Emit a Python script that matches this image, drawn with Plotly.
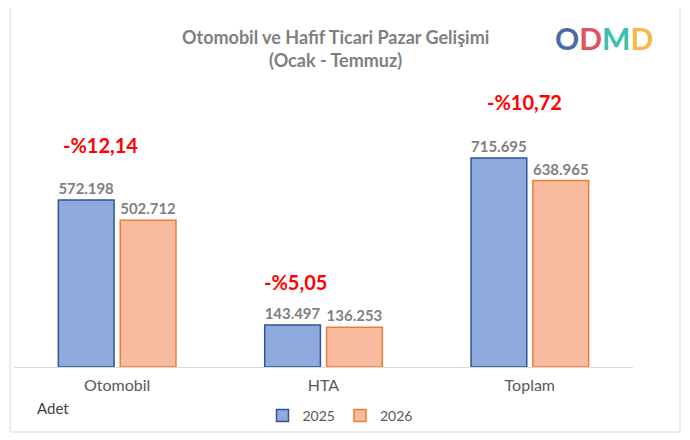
import plotly.graph_objects as go

categories = ["Otomobil", "HTA", "Toplam"]
v2025 = [572198, 143497, 715695]
v2026 = [502712, 136253, 638965]
changes = ["-%12,14", "-%5,05", "-%10,72"]

def fmt(v):
    return "<b>" + f"{v:,}".replace(",", ".") + "</b>"

L, R, T, B = 6, 65, 52, 81
W = 690 - L - R
H = 440 - T - B

fig = go.Figure()
fig.add_bar(name="2025", x=categories, y=v2025, marker=dict(color="#8FAADC", line=dict(color="#2F5597", width=1.5)),
            text=[fmt(v) for v in v2025], textposition="outside",
            textfont=dict(color="#7F7F7F", size=15, family="Lato"), cliponaxis=False)
fig.add_bar(name="2026", x=categories, y=v2026, marker=dict(color="#F8BBA0", line=dict(color="#ED7D31", width=1.5)),
            text=[fmt(v) for v in v2026], textposition="outside",
            textfont=dict(color="#7F7F7F", size=15, family="Lato"), cliponaxis=False)

ann = []
shifts = [-17, -28, -5]
yshifts = [55, 43, 56]
for c, a, b, t, s, ys in zip(categories, v2025, v2026, changes, shifts, yshifts):
    ann.append(dict(x=c, y=max(a, b), text=f"<b>{t}</b>", showarrow=False, xshift=s, yshift=ys,
                    font=dict(color="#FF0000", size=20, family="Lato")))
ann.append(dict(xref="paper", yref="paper", x=(335-L-8)/W, y=(367-24)/H, text="<b>Otomobil ve Hafif Ticari Pazar Gelişimi<br>(Ocak - Temmuz)</b>",
                showarrow=False, font=dict(color="#7F7F7F", size=18, family="Lato")))
ann.append(dict(xref="paper", yref="paper", x=(35-L-8)/W, y=(367-419)/H, xanchor="left", text="Adet", showarrow=False,
                font=dict(color="#404040", size=15, family="Lato")))
logo = ("<span style='color:#4F6BA6'>O</span><span style='color:#E0525E'>D</span>"
        "<span style='color:#3DBFB0'>M</span><span style='color:#F7B84B'>D</span>")
ann.append(dict(xref="paper", yref="paper", x=(655-L-8)/W, xanchor="right", y=(367-18)/H, text="<b>"+logo+"</b>",
                showarrow=False, font=dict(size=30, family="Lato")))

fig.update_layout(
    width=690, height=440, margin=dict(l=L, r=R, t=T, b=B, autoexpand=False),
    paper_bgcolor="white", plot_bgcolor="white",
    barmode="group", bargap=0.4, bargroupgap=0.1,
    showlegend=True,
    legend=dict(orientation="h", x=(340-L-8)/W, xanchor="center", y=(367-400)/H, yanchor="top",
                bgcolor="rgba(0,0,0,0)",
                font=dict(color="#595959", size=14, family="Lato")),
    xaxis=dict(showline=True, linecolor="#D9D9D9", ticklen=4, ticks="outside", tickcolor="white",
               tickfont=dict(color="#595959", size=16, family="Lato")),
    yaxis=dict(range=[0, 572198 * H / 167], visible=False),
    annotations=ann,
    shapes=[dict(type="rect", xref="paper", yref="paper", x0=(8-L-6)/W, x1=(672-L)/W,
                 y0=(367-432)/H, y1=(367-4)/H, line=dict(color="#D9D9D9", width=1))],
)
fig.write_html("out.html")
